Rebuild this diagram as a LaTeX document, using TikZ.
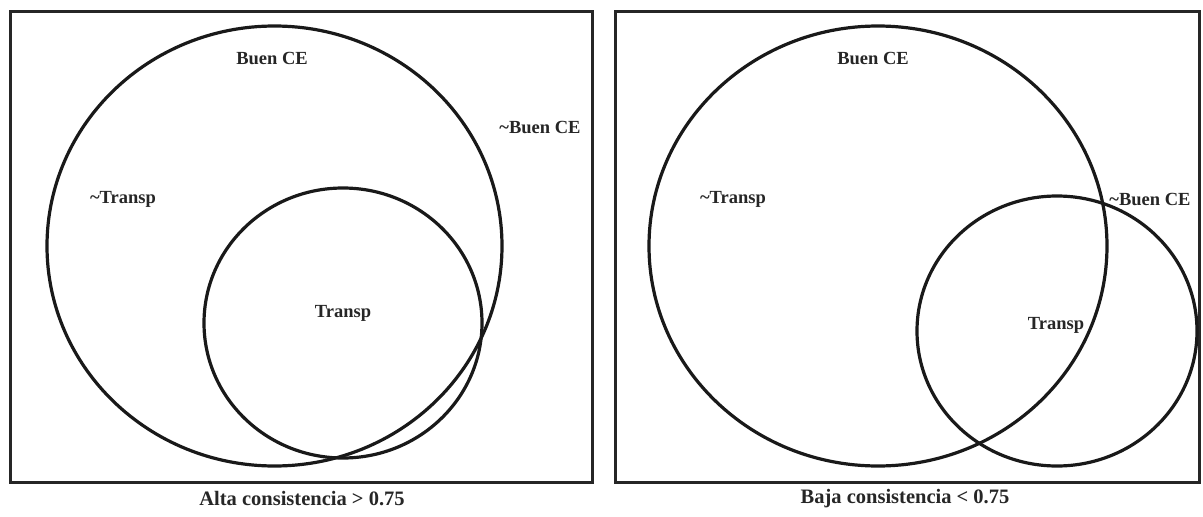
\documentclass[tikz,border=0pt]{standalone}
\usepackage{fontspec}
\setmainfont{Liberation Serif}
\begin{document}
\begin{tikzpicture}[x=1pt,y=-1pt,
  frame/.style={draw=black!85,line width=3pt},
  set/.style={draw=black!90,line width=3.2pt},
  lbl/.style={font=\fontsize{18.5}{19}\selectfont\bfseries,text=black!85,inner sep=0pt},
  captext/.style={font=\fontsize{20.5}{21}\selectfont\bfseries,text=black!85,inner sep=0pt}]
\useasboundingbox (0,0) rectangle (1203,517);

% left panel: high consistency
\draw[frame] (10,11) rectangle (592,482);
\draw[set] (274.5,246) ellipse [x radius=227.5,y radius=220];
\draw[set] (343,323) ellipse [x radius=139,y radius=135];
\node[lbl] (lbuen) at (272,58) {Buen CE};
\node[lbl] (lnbuen) at (540,127) {\textasciitilde Buen CE};
\node[lbl] (lntr) at (123,199) {\textasciitilde Transp};
\node[lbl] (ltr) at (343,313) {Transp};
\node[captext] (lcap) at (302,499) {Alta consistencia > 0.75};

% right panel: low consistency
\draw[frame] (615,11) rectangle (1199,482);
\draw[set] (878,246) ellipse [x radius=229,y radius=220];
\draw[set] (1057,331) ellipse [x radius=140,y radius=135];
\node[lbl] (rbuen) at (873,58) {Buen CE};
\node[lbl] (rnbuen) at (1150,199) {\textasciitilde Buen CE};
\node[lbl] (rntr) at (733,199) {\textasciitilde Transp};
\node[lbl] (rtr) at (1056,325) {Transp};
\node[captext] (rcap) at (905,499) {Baja consistencia < 0.75};
\end{tikzpicture}
\end{document}
